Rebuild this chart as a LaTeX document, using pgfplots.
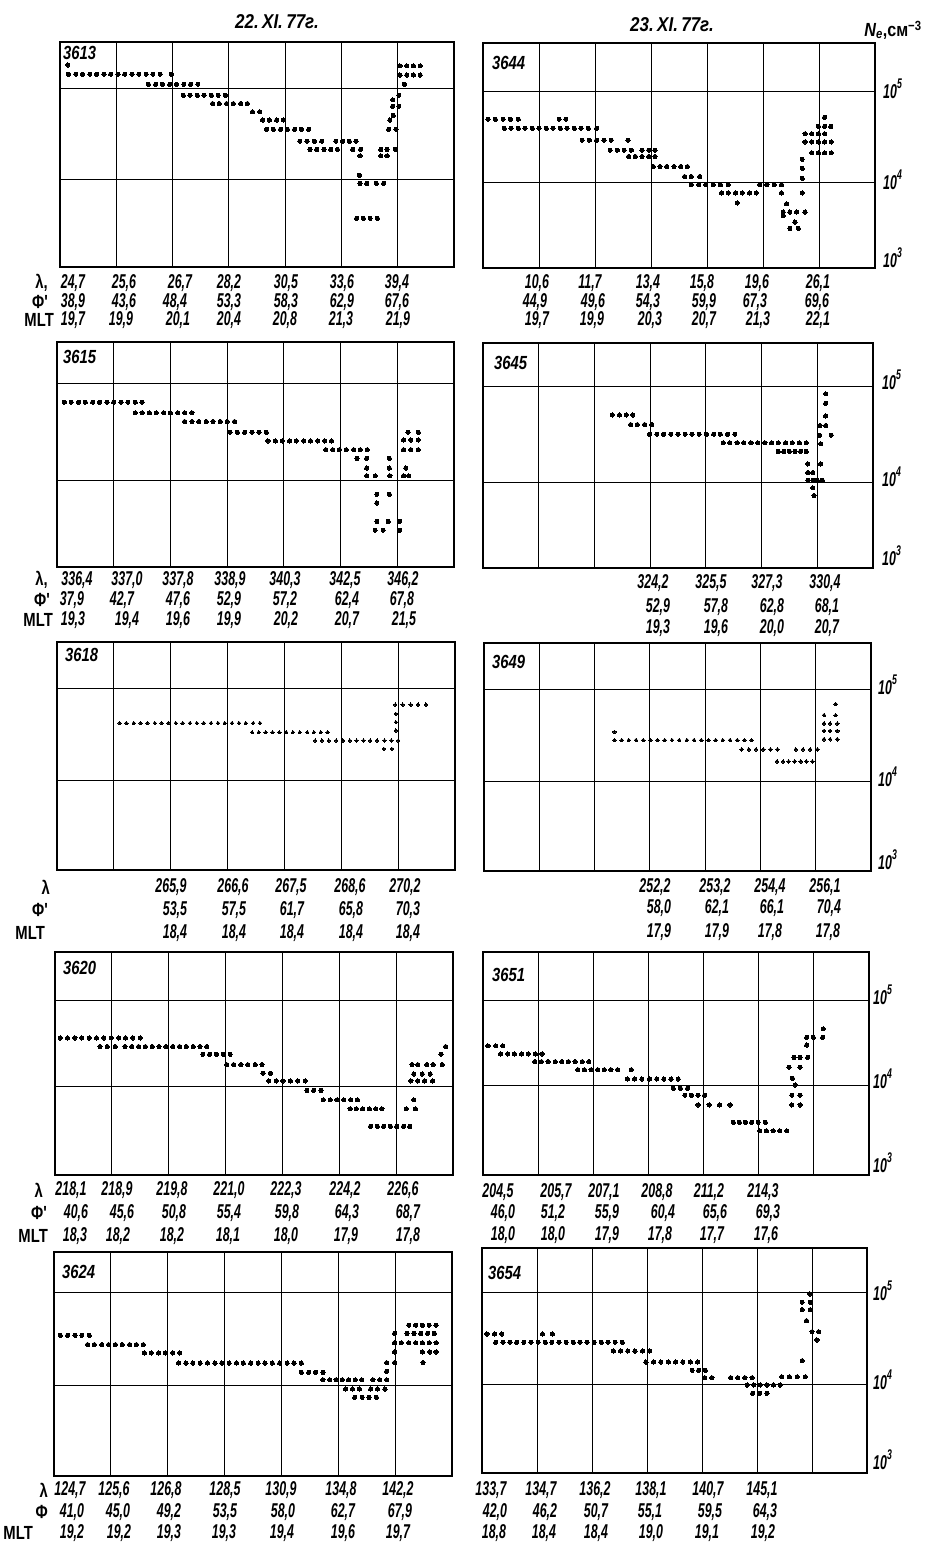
\documentclass[border=0pt]{standalone}
\usepackage{fontspec}
\setmainfont{Liberation Sans}
\newfontfamily\lab[FakeStretch=0.62]{Liberation Sans}
\newfontfamily\labn[FakeStretch=0.78]{Liberation Sans}
\newfontfamily\labw[FakeStretch=0.85]{Liberation Sans}
\usepackage{pgfplots}
\pgfplotsset{compat=1.18}
\pgfplotsset{
  pan/.style n args={6}{
    at={(#1pt,-#2pt)}, anchor=south west, scale only axis,
    width=#3pt, height=#4pt, ymin=#5, ymax=#6,
    xmin=0, xmax=7, xtick={1,2,3,4,5,6}, ytick={4,5},
    xticklabels={{},{},{},{},{},{}}, yticklabels={{},{}}, major tick length=0pt,
    grid=major, grid style={black, line width=0.8pt},
    axis line style={line width=1.4pt}, clip=false},
  dots/.style={only marks, color=black, mark=*, mark size=#1,
    mark options={fill=black, draw=black, line width=0pt}},
}
\tikzset{
  val/.style={font=\fontsize{20}{20}\selectfont\lab\bfseries\itshape, inner sep=0pt},
  rl/.style={font=\fontsize{19}{20}\selectfont\labn\bfseries, inner sep=0pt, anchor=east},
  orb/.style={font=\fontsize{19}{20}\selectfont\labn\bfseries\itshape, inner sep=0pt, anchor=west},
  yl/.style={font=\fontsize{20}{20}\selectfont\lab\bfseries\itshape, inner sep=0pt, anchor=base west},
}
\newcommand\vrow[2]{\foreach \xx/\vv in {#2} {\node[val] at (\xx,#1) {\vv};}}
\newcommand\ylab[3]{\node[yl] at (#1,#2+7) {10\raisebox{0.5em}{\fontsize{14}{14}\selectfont #3}};}
\begin{document}
\begin{tikzpicture}
\useasboundingbox (0,0) rectangle (935pt,-1551pt);
% ---------------- 3613
\begin{axis}[pan={60}{267}{394}{225}{3.05}{5.5}]
\addplot[dots=2.1pt] coordinates {
(0.14,5.25)
(0.15,5.15)(0.28,5.15)(0.40,5.15)(0.53,5.15)(0.65,5.15)(0.78,5.15)(0.90,5.15)(1.03,5.15)(1.15,5.15)(1.28,5.15)(1.40,5.15)(1.53,5.15)(1.65,5.15)(1.78,5.15)(1.98,5.15)
(1.57,5.04)(1.70,5.04)(1.82,5.04)(1.95,5.04)(2.07,5.04)(2.20,5.04)(2.32,5.04)(2.45,5.04)
(2.19,4.92)(2.31,4.92)(2.44,4.92)(2.56,4.92)(2.69,4.92)(2.81,4.92)(2.94,4.92)
(2.71,4.83)(2.83,4.83)(2.96,4.83)(3.08,4.83)(3.21,4.83)(3.33,4.83)
(3.42,4.74)(3.55,4.74)
(3.60,4.65)(3.72,4.65)(3.85,4.65)(3.97,4.65)
(3.67,4.55)(3.79,4.55)(3.92,4.55)(4.04,4.55)(4.17,4.55)(4.29,4.55)(4.42,4.55)
(4.26,4.42)(4.39,4.42)(4.52,4.42)(4.65,4.42)(4.90,4.42)(5.02,4.42)(5.14,4.42)(5.26,4.42)
(4.44,4.33)(4.56,4.33)(4.69,4.33)(4.81,4.33)(4.93,4.33)(5.20,4.33)(5.34,4.33)(5.70,4.33)(5.81,4.33)(5.96,4.33)
(5.33,4.26)(5.70,4.26)(5.81,4.26)
(5.32,4.05)
(5.33,3.96)(5.45,3.96)(5.62,3.96)(5.75,3.96)
(5.27,3.58)(5.39,3.58)(5.51,3.58)(5.64,3.58)
(6.04,5.24)(6.16,5.24)(6.28,5.24)(6.40,5.24)
(6.04,5.14)(6.16,5.14)(6.28,5.14)(6.40,5.14)
(6.12,5.04)(6.02,4.92)(5.91,4.87)(5.91,4.80)(6.02,4.80)(5.92,4.70)(5.86,4.65)(5.84,4.55)(5.97,4.55)
};
\end{axis}
% ---------------- 3644
\begin{axis}[pan={483}{268}{392}{225}{3.055}{5.527}]
\addplot[dots=2.1pt] coordinates {
(0.09,4.69)(0.22,4.69)(0.36,4.69)(0.49,4.69)(0.63,4.69)(1.36,4.69)(1.48,4.69)
(0.38,4.59)(0.50,4.59)(0.63,4.59)(0.75,4.59)(0.88,4.59)(1.00,4.59)(1.13,4.59)(1.25,4.59)(1.38,4.59)(1.50,4.59)(1.63,4.59)(1.75,4.59)(1.88,4.59)(2.03,4.59)
(1.77,4.46)(1.90,4.46)(2.03,4.46)(2.16,4.46)(2.29,4.46)(2.59,4.46)
(2.27,4.35)(2.40,4.35)(2.52,4.35)(2.65,4.35)(2.84,4.35)(2.96,4.35)(3.07,4.35)
(2.60,4.28)(2.72,4.28)(2.84,4.28)(2.96,4.28)(3.07,4.28)
(3.04,4.17)(3.16,4.17)(3.28,4.17)(3.41,4.17)(3.53,4.17)(3.65,4.17)
(3.60,4.06)(3.72,4.06)(3.87,4.06)
(3.72,3.97)(3.85,3.97)(3.98,3.97)(4.11,3.97)(4.24,3.97)(4.38,3.97)(4.94,3.97)(5.07,3.97)(5.20,3.97)(5.33,3.97)
(4.26,3.88)(4.38,3.88)(4.51,3.88)(4.63,3.88)(4.76,3.88)(4.88,3.88)(5.33,3.88)
(4.54,3.77)(5.42,3.76)
(5.36,3.67)(5.48,3.67)(5.60,3.67)(5.75,3.67)(5.36,3.63)
(5.57,3.56)(5.48,3.49)(5.63,3.49)
(5.70,3.88)(5.70,4.04)(5.70,4.15)(5.70,4.25)
(6.10,4.71)(5.99,4.61)(6.10,4.61)(6.21,4.61)
(5.75,4.53)(5.87,4.53)(5.99,4.53)(6.10,4.53)
(5.75,4.44)(5.87,4.44)(5.99,4.44)(6.10,4.44)(6.22,4.44)
(5.87,4.32)(5.99,4.32)(6.10,4.32)(6.22,4.32)
};
\end{axis}
% ---------------- 3615
\begin{axis}[pan={57}{567}{397}{225}{3.11}{5.43}]
\addplot[dots=2.1pt] coordinates {
(0.13,4.81)(0.25,4.81)(0.38,4.81)(0.50,4.81)(0.63,4.81)(0.75,4.81)(0.88,4.81)(1.00,4.81)(1.13,4.81)(1.25,4.81)(1.38,4.81)(1.50,4.81)
(1.38,4.70)(1.50,4.70)(1.63,4.70)(1.75,4.70)(1.88,4.70)(2.00,4.70)(2.13,4.70)(2.25,4.70)(2.38,4.70)
(2.25,4.61)(2.38,4.61)(2.50,4.61)(2.63,4.61)(2.75,4.61)(2.88,4.61)(3.00,4.61)(3.13,4.61)
(3.05,4.50)(3.18,4.50)(3.31,4.50)(3.44,4.50)(3.56,4.50)(3.69,4.50)
(3.72,4.41)(3.85,4.41)(3.97,4.41)(4.10,4.41)(4.22,4.41)(4.35,4.41)(4.47,4.41)(4.60,4.41)(4.72,4.41)(4.84,4.41)
(4.74,4.32)(4.86,4.32)(4.98,4.32)(5.10,4.32)(5.23,4.32)(5.35,4.32)(5.47,4.32)
(5.29,4.23)(5.46,4.23)(5.86,4.23)
(5.46,4.13)(5.86,4.13)(6.15,4.13)
(5.46,4.05)(5.61,4.05)(5.87,4.05)(6.11,4.05)(6.20,4.05)
(5.64,3.86)(5.86,3.86)(5.64,3.77)
(5.64,3.58)(5.84,3.58)(6.04,3.58)
(5.61,3.49)(5.75,3.49)(6.04,3.49)
(6.19,4.50)(6.37,4.50)(6.11,4.42)(6.24,4.42)(6.37,4.42)(6.11,4.32)(6.24,4.32)(6.37,4.32)
};
\end{axis}
% ---------------- 3645
\begin{axis}[pan={483}{568}{390}{225}{3.105}{5.45}]
\addplot[dots=2.1pt] coordinates {
(2.32,4.70)(2.45,4.70)(2.57,4.70)(2.69,4.70)
(2.65,4.60)(2.77,4.60)(2.90,4.60)(3.03,4.60)
(2.99,4.50)(3.12,4.50)(3.24,4.50)(3.37,4.50)(3.50,4.50)(3.63,4.50)(3.75,4.50)(3.88,4.50)(4.01,4.50)(4.14,4.50)(4.26,4.50)(4.39,4.50)(4.52,4.50)
(4.31,4.41)(4.43,4.41)(4.56,4.41)(4.68,4.41)(4.81,4.41)(4.93,4.41)(5.06,4.41)(5.18,4.41)(5.30,4.41)(5.43,4.41)(5.55,4.41)(5.68,4.41)(5.80,4.41)
(5.30,4.32)(5.40,4.32)(5.50,4.32)(5.60,4.32)(5.70,4.32)(5.80,4.32)
(6.15,4.92)(6.15,4.82)(6.15,4.69)(6.05,4.59)(6.15,4.59)(6.04,4.49)(6.25,4.49)(6.06,4.40)
(5.83,4.19)(6.06,4.19)(5.83,4.10)(5.92,4.10)
(5.83,4.02)(5.92,4.02)(6.00,4.02)(6.09,4.02)(5.92,3.94)(5.94,3.86)
};
\end{axis}
% ---------------- 3618
\begin{axis}[pan={57}{870}{398}{228}{3.025}{5.5}]
\addplot[dots=1.7pt] coordinates {
(1.10,4.62)(1.22,4.62)(1.35,4.62)(1.47,4.62)(1.59,4.62)(1.72,4.62)(1.84,4.62)(1.96,4.62)(2.09,4.62)(2.21,4.62)(2.34,4.62)(2.46,4.62)(2.58,4.62)(2.71,4.62)(2.83,4.62)(2.95,4.62)(3.08,4.62)(3.20,4.62)(3.32,4.62)(3.45,4.62)(3.57,4.62)
(3.43,4.52)(3.55,4.52)(3.67,4.52)(3.79,4.52)(3.91,4.52)(4.03,4.52)(4.15,4.52)(4.27,4.52)(4.40,4.52)(4.52,4.52)(4.64,4.52)(4.76,4.52)
(4.54,4.43)(4.66,4.43)(4.78,4.43)(4.91,4.43)(5.03,4.43)(5.15,4.43)(5.27,4.43)(5.39,4.43)(5.51,4.43)(5.63,4.43)(5.76,4.43)(5.88,4.43)(6.00,4.43)
(5.75,4.34)(5.89,4.34)
(5.96,4.54)(5.96,4.63)(5.96,4.72)
(5.95,4.82)(6.08,4.82)(6.22,4.82)(6.35,4.82)(6.49,4.82)
};
\end{axis}
% ---------------- 3649
\begin{axis}[pan={484}{871}{387}{228}{3.036}{5.5}]
\addplot[dots=1.8pt] coordinates {
(2.36,4.54)
(2.36,4.45)(2.49,4.45)(2.62,4.45)(2.75,4.45)(2.88,4.45)(3.01,4.45)(3.14,4.45)(3.27,4.45)(3.40,4.45)(3.53,4.45)(3.67,4.45)(3.80,4.45)(3.93,4.45)(4.06,4.45)(4.19,4.45)(4.32,4.45)(4.45,4.45)(4.58,4.45)(4.71,4.45)(4.84,4.45)
(4.66,4.35)(4.79,4.35)(4.92,4.35)(5.05,4.35)(5.18,4.35)(5.31,4.35)(5.64,4.35)(5.77,4.35)(5.90,4.35)(6.03,4.35)
(5.30,4.22)(5.41,4.22)(5.51,4.22)(5.62,4.22)(5.73,4.22)(5.83,4.22)(5.94,4.22)
(6.36,4.84)(6.15,4.72)(6.36,4.72)
(6.15,4.63)(6.26,4.63)(6.39,4.63)
(6.15,4.55)(6.26,4.55)(6.39,4.55)
(6.15,4.46)(6.26,4.46)(6.39,4.46)
};
\end{axis}
% ---------------- 3620
\begin{axis}[pan={55}{1175}{398}{223}{2.965}{5.56}]
\addplot[dots=2.1pt] coordinates {
(0.09,4.56)(0.22,4.56)(0.35,4.56)(0.47,4.56)(0.60,4.56)(0.73,4.56)(0.86,4.56)(0.99,4.56)(1.12,4.56)(1.24,4.56)(1.37,4.56)(1.50,4.56)
(0.79,4.46)(0.92,4.46)(1.06,4.46)
(1.23,4.46)(1.35,4.46)(1.47,4.46)(1.59,4.46)(1.71,4.46)(1.83,4.46)(1.95,4.46)(2.07,4.46)(2.19,4.46)(2.31,4.46)(2.43,4.46)(2.55,4.46)(2.67,4.46)
(2.60,4.37)(2.72,4.37)(2.84,4.37)(2.96,4.37)(3.08,4.37)
(3.02,4.25)(3.14,4.25)(3.27,4.25)(3.39,4.25)(3.52,4.25)(3.64,4.25)
(3.66,4.15)(3.79,4.15)
(3.76,4.06)(3.89,4.06)(4.01,4.06)(4.14,4.06)(4.27,4.06)(4.40,4.06)
(4.43,3.95)(4.55,3.95)(4.68,3.95)
(4.72,3.84)(4.84,3.84)(4.96,3.84)(5.08,3.84)(5.20,3.84)(5.32,3.84)
(5.19,3.735)(5.30,3.735)(5.41,3.735)(5.53,3.735)(5.64,3.735)(5.75,3.735)
(5.55,3.53)(5.67,3.53)(5.78,3.53)(5.90,3.53)(6.01,3.53)(6.13,3.53)(6.24,3.53)
(6.18,3.735)(6.34,3.735)(6.31,3.84)
(6.26,4.06)(6.38,4.06)(6.50,4.06)(6.64,4.06)
(6.31,4.14)(6.46,4.14)(6.60,4.14)
(6.28,4.25)(6.38,4.25)(6.54,4.25)(6.65,4.25)(6.81,4.25)
(6.79,4.37)(6.87,4.46)
};
\end{axis}
% ---------------- 3651
\begin{axis}[pan={483}{1175}{386}{223}{2.94}{5.565}]
\addplot[dots=2.1pt] coordinates {
(0.09,4.46)(0.23,4.46)(0.36,4.46)
(0.32,4.365)(0.45,4.365)(0.57,4.365)(0.70,4.365)(0.82,4.365)(0.95,4.365)(1.07,4.365)
(0.94,4.275)(1.06,4.275)(1.18,4.275)(1.31,4.275)(1.43,4.275)(1.55,4.275)(1.67,4.275)(1.80,4.275)(1.92,4.275)
(1.72,4.18)(1.84,4.18)(1.96,4.18)(2.08,4.18)(2.20,4.18)(2.32,4.18)(2.44,4.18)(2.69,4.18)
(2.62,4.07)(2.75,4.07)(2.88,4.07)(3.02,4.07)(3.15,4.07)(3.28,4.07)(3.41,4.07)(3.54,4.07)
(3.45,3.96)(3.58,3.96)(3.71,3.96)
(3.66,3.88)(3.78,3.88)(3.90,3.88)(4.02,3.88)
(3.90,3.765)(4.10,3.765)(4.29,3.765)(4.48,3.765)
(4.54,3.56)(4.65,3.56)(4.76,3.56)(4.87,3.56)(4.99,3.56)(5.12,3.56)
(5.02,3.46)(5.14,3.46)(5.26,3.46)(5.38,3.46)(5.51,3.46)
(5.60,3.765)(5.75,3.765)(5.60,3.88)(5.75,3.88)(5.66,4.00)(5.61,4.08)
(5.55,4.21)(5.75,4.21)(5.64,4.325)(5.75,4.325)(5.89,4.325)
(5.87,4.47)(5.87,4.56)(5.99,4.56)(6.16,4.56)(6.17,4.66)
};
\end{axis}
% ---------------- 3624
\begin{axis}[pan={54}{1476}{398}{224}{3.02}{5.44}]
\addplot[dots=2.1pt] coordinates {
(0.11,4.54)(0.24,4.54)(0.37,4.54)(0.49,4.54)(0.62,4.54)
(0.59,4.44)(0.71,4.44)(0.84,4.44)(0.96,4.44)(1.08,4.44)(1.20,4.44)(1.33,4.44)(1.45,4.44)(1.57,4.44)
(1.59,4.35)(1.71,4.35)(1.84,4.35)(1.96,4.35)(2.09,4.35)(2.21,4.35)
(2.19,4.24)(2.32,4.24)(2.44,4.24)(2.57,4.24)(2.70,4.24)(2.83,4.24)(2.95,4.24)(3.08,4.24)(3.21,4.24)(3.33,4.24)(3.46,4.24)(3.59,4.24)(3.71,4.24)(3.84,4.24)(3.97,4.24)(4.10,4.24)(4.22,4.24)(4.35,4.24)
(4.35,4.14)(4.48,4.14)(4.60,4.14)(4.73,4.14)
(4.73,4.06)(4.85,4.06)(4.96,4.06)(5.07,4.06)(5.18,4.06)(5.30,4.06)(5.41,4.06)
(5.13,3.96)(5.25,3.96)(5.37,3.96)(5.57,3.96)(5.69,3.96)(5.82,3.96)
(5.29,3.87)(5.42,3.87)(5.54,3.87)(5.67,3.87)
(5.61,4.06)(5.73,4.06)(5.85,4.06)
(5.85,4.15)(5.85,4.245)(5.99,4.245)(5.99,4.36)
(6.24,4.65)(6.36,4.65)(6.48,4.65)(6.60,4.65)(6.72,4.65)
(5.99,4.56)(6.21,4.56)(6.33,4.56)(6.45,4.56)(6.57,4.56)(6.69,4.56)
(5.99,4.46)(6.11,4.46)(6.24,4.46)(6.36,4.46)(6.48,4.46)(6.60,4.46)(6.72,4.46)
(6.48,4.36)(6.61,4.36)(6.72,4.36)(6.49,4.245)
};
\end{axis}
% ---------------- 3654
\begin{axis}[pan={482}{1473}{385}{225}{3.033}{5.48}]
\addplot[dots=2.1pt] coordinates {
(0.09,4.545)(0.23,4.545)(0.36,4.545)(1.10,4.545)(1.28,4.545)
(0.25,4.455)(0.38,4.455)(0.51,4.455)(0.63,4.455)(0.76,4.455)(0.89,4.455)(1.02,4.455)(1.15,4.455)(1.27,4.455)(1.40,4.455)(1.53,4.455)(1.66,4.455)(1.78,4.455)(1.91,4.455)(2.04,4.455)(2.17,4.455)(2.29,4.455)(2.42,4.455)(2.55,4.455)
(2.39,4.36)(2.52,4.36)(2.65,4.36)(2.78,4.36)(2.92,4.36)(3.05,4.36)
(2.98,4.24)(3.12,4.24)(3.25,4.24)(3.39,4.24)(3.52,4.24)(3.65,4.24)(3.79,4.24)(3.92,4.24)
(3.82,4.15)(3.94,4.15)(4.06,4.15)
(4.05,4.07)(4.18,4.07)(4.52,4.07)(4.65,4.07)(4.78,4.07)(4.91,4.07)
(4.82,3.99)(4.94,3.99)(5.06,3.99)(5.18,3.99)(5.30,3.99)(5.42,3.99)
(4.92,3.90)(5.05,3.90)(5.18,3.90)
(5.45,4.08)(5.59,4.08)(5.73,4.08)(5.88,4.08)
(5.82,4.255)
(5.96,4.98)(5.82,4.89)(5.97,4.89)(5.82,4.81)(5.97,4.81)(5.90,4.69)(6.00,4.57)(6.12,4.57)(6.09,4.48)
};
\end{axis}
% ---------------- text
\begin{scope}[x=1pt,y=-1pt]
\node[font=\fontsize{20}{22}\selectfont\labw\bfseries\itshape, inner sep=0pt] at (277,22) {22.\,XI.\,77г.};
\node[font=\fontsize{20}{22}\selectfont\labw\bfseries\itshape, inner sep=0pt] at (672,25) {23.\,XI.\,77г.};
\node[font=\fontsize{19}{22}\selectfont\labw, inner sep=0pt] at (893,30) {\bfseries\itshape N\textsubscript{e}\upshape,см\textsuperscript{−3}};
% orbit numbers
\node[orb] at (63,53) {3613};
\node[orb] at (63,357) {3615};
\node[orb] at (65,655) {3618};
\node[orb] at (63,968) {3620};
\node[orb] at (62,1272) {3624};
\node[orb] at (492,63) {3644};
\node[orb] at (494,363) {3645};
\node[orb] at (492,662) {3649};
\node[orb] at (492,975) {3651};
\node[orb] at (488,1273) {3654};
% y labels
\ylab{883}{91}{5}\ylab{883}{182}{4}\ylab{883}{260}{3}
\ylab{882}{382}{5}\ylab{882}{479}{4}\ylab{882}{558}{3}
\ylab{878}{687}{5}\ylab{878}{779}{4}\ylab{878}{862}{3}
\ylab{873}{997}{5}\ylab{873}{1081}{4}\ylab{873}{1165}{3}
\ylab{873}{1293}{5}\ylab{873}{1382}{4}\ylab{873}{1462}{3}
% row labels
\node[rl] at (48,283) {λ,};\node[rl] at (48,302) {Φ'};\node[rl] at (54,320) {MLT};
\node[rl] at (48,580) {λ,};\node[rl] at (50,600) {Φ'};\node[rl] at (53,620) {MLT};
\node[rl] at (50,887) {λ};\node[rl] at (48,910) {Φ'};\node[rl] at (45,933) {MLT};
\node[rl] at (43,1190) {λ};\node[rl] at (47,1213) {Φ'};\node[rl] at (48,1236) {MLT};
\node[rl] at (48,1490) {λ};\node[rl] at (48,1512) {Φ};\node[rl] at (33,1533) {MLT};
% values
\vrow{283}{73/{24,7},124/{25,6},180/{26,7},229/{28,2},286/{30,5},342/{33,6},397/{39,4}}
\vrow{302}{73/{38,9},124/{43,6},175/{48,4},229/{53,3},286/{58,3},342/{62,9},397/{67,6}}
\vrow{320}{73/{19,7},121/{19,9},178/{20,1},229/{20,4},285/{20,8},341/{21,3},398/{21,9}}
\vrow{580}{77/{336,4},127/{337,0},178/{337,8},230/{338,9},285/{340,3},345/{342,5},403/{346,2}}
\vrow{600}{72/{37,9},122/{42,7},178/{47,6},229/{52,9},285/{57,2},347/{62,4},402/{67,8}}
\vrow{620}{73/{19,3},127/{19,4},178/{19,6},229/{19,9},286/{20,2},347/{20,7},404/{21,5}}
\vrow{887}{171/{265,9},233/{266,6},291/{267,5},350/{268,6},405/{270,2}}
\vrow{910}{175/{53,5},234/{57,5},292/{61,7},351/{65,8},408/{70,3}}
\vrow{933}{175/{18,4},234/{18,4},292/{18,4},351/{18,4},408/{18,4}}
\vrow{1190}{71/{218,1},117/{218,9},172/{219,8},229/{221,0},286/{222,3},345/{224,2},403/{226,6}}
\vrow{1213}{76/{40,6},122/{45,6},174/{50,8},229/{55,4},287/{59,8},347/{64,3},408/{68,7}}
\vrow{1236}{75/{18,3},118/{18,2},172/{18,2},228/{18,1},286/{18,0},346/{17,9},408/{17,8}}
\vrow{1490}{70/{124,7},114/{125,6},166/{126,8},225/{128,5},281/{130,9},341/{134,8},398/{142,2}}
\vrow{1512}{72/{41,0},118/{45,0},169/{49,2},225/{53,5},283/{58,0},343/{62,7},400/{67,9}}
\vrow{1533}{72/{19,2},119/{19,2},169/{19,3},224/{19,3},282/{19,4},343/{19,6},398/{19,7}}
\vrow{283}{537/{10,6},590/{11,7},648/{13,4},702/{15,8},757/{19,6},818/{26,1}}
\vrow{302}{535/{44,9},593/{49,6},648/{54,3},704/{59,9},755/{67,3},817/{69,6}}
\vrow{320}{537/{19,7},592/{19,9},650/{20,3},704/{20,7},758/{21,3},818/{22,1}}
\vrow{583}{653/{324,2},711/{325,5},767/{327,3},825/{330,4}}
\vrow{607}{658/{52,9},716/{57,8},772/{62,8},827/{68,1}}
\vrow{628}{658/{19,3},716/{19,6},772/{20,0},827/{20,7}}
\vrow{887}{655/{252,2},715/{253,2},770/{254,4},825/{256,1}}
\vrow{908}{659/{58,0},717/{62,1},772/{66,1},829/{70,4}}
\vrow{932}{659/{17,9},717/{17,9},770/{17,8},828/{17,8}}
\vrow{1192}{498/{204,5},556/{205,7},604/{207,1},657/{208,8},709/{211,2},763/{214,3}}
\vrow{1213}{503/{46,0},553/{51,2},607/{55,9},663/{60,4},715/{65,6},768/{69,3}}
\vrow{1235}{503/{18,0},553/{18,0},607/{17,9},660/{17,8},712/{17,7},766/{17,6}}
\vrow{1490}{491/{133,7},541/{134,7},595/{136,2},651/{138,1},708/{140,7},762/{145,1}}
\vrow{1512}{495/{42,0},545/{46,2},596/{50,7},650/{55,1},710/{59,5},765/{64,3}}
\vrow{1533}{494/{18,8},544/{18,4},596/{18,4},651/{19,0},707/{19,1},763/{19,2}}
\end{scope}
\end{tikzpicture}
\end{document}
